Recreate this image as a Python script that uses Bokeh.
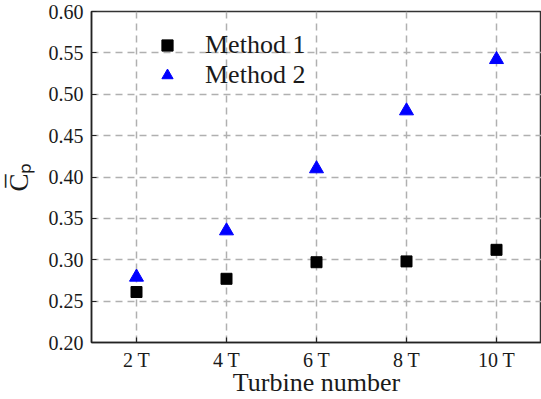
from bokeh.plotting import figure
from bokeh.models import FixedTicker, PrintfTickFormatter, Legend, LegendItem, Range1d, FactorRange
from bokeh.embed import file_html
from bokeh.resources import INLINE

categories = ["2 T", "4 T", "6 T", "8 T", "10 T"]
method1 = [0.261, 0.277, 0.297, 0.298, 0.312]
method2 = [0.279, 0.335, 0.410, 0.480, 0.542]
y_ticks = [0.20, 0.25, 0.30, 0.35, 0.40, 0.45, 0.50, 0.55, 0.60]

FONT = "Liberation Serif"

p = figure(width=541, height=399, x_range=FactorRange(*categories, range_padding=0),
           y_range=Range1d(0.20, 0.60), output_backend="svg", toolbar_location=None,
           min_border_left=91, min_border_right=0, min_border_top=11, min_border_bottom=56)

p.background_fill_color = "white"
p.border_fill_color = "white"
p.outline_line_color = "#333333"
p.outline_line_width = 1.5

r1 = p.scatter(categories, method1, marker="square", size=11, color="black")
r2 = p.scatter(categories, method2, marker="triangle", size=14, color="#0000ff")

for ax in (p.xaxis, p.yaxis):
    ax.axis_line_color = "#222222"
    ax.axis_line_width = 1.5
    ax.major_tick_in = 5
    ax.major_tick_out = 0
    ax.major_tick_line_color = "#222222"
    ax.major_tick_line_width = 1.2
    ax.minor_tick_line_color = None
    ax.major_label_text_font = FONT
    ax.major_label_text_font_size = "20px"
    ax.major_label_text_color = "#1a1a1a"
    ax.axis_label_text_font = FONT
    ax.axis_label_text_font_style = "normal"
    ax.axis_label_text_color = "#1a1a1a"

p.xaxis.axis_label = "Turbine number"
p.xaxis.axis_label_text_font_size = "26px"
p.xaxis.axis_label_standoff = -6
p.xaxis.major_label_standoff = 6

p.yaxis.axis_label = "C\u0305\u209a"
p.yaxis.axis_label_text_font_size = "27px"
p.yaxis.axis_label_standoff = 12
p.yaxis.ticker = FixedTicker(ticks=y_ticks)
p.yaxis.formatter = PrintfTickFormatter(format="%.2f")
p.yaxis.major_label_standoff = 8

for g in (p.xgrid[0], p.ygrid[0]):
    g.grid_line_color = "#b0b0b0"
    g.grid_line_dash = "7 5"
    g.grid_line_width = 1.5
p.ygrid.ticker = FixedTicker(ticks=y_ticks)

legend = Legend(items=[LegendItem(label="Method 1", renderers=[r1]),
                       LegendItem(label="Method 2", renderers=[r2])],
                location=(62, 252), orientation="vertical")
legend.border_line_color = None
legend.background_fill_alpha = 0
legend.label_text_font = FONT
legend.label_text_font_size = "26px"
legend.label_text_color = "#1a1a1a"
legend.label_standoff = 24
legend.glyph_width = 28
legend.glyph_height = 28
legend.label_height = 28
legend.spacing = 0
legend.padding = 0
legend.margin = 0
p.add_layout(legend)

open("out.html", "w").write(file_html(p, INLINE))
